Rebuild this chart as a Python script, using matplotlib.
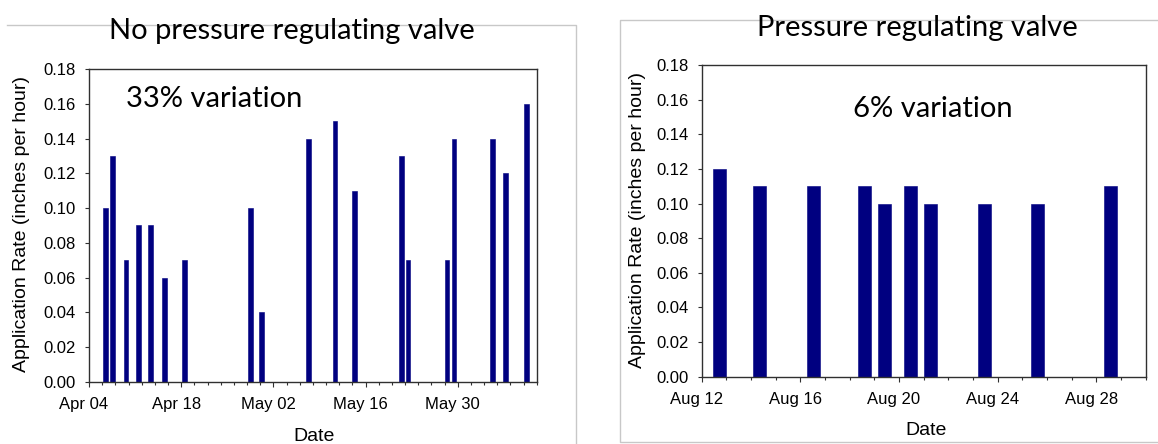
import matplotlib
matplotlib.use("Agg")
import matplotlib.pyplot as plt
import matplotlib.dates as mdates
import matplotlib.transforms as mtrans
from matplotlib.lines import Line2D
import pandas as pd

# application rate readings, no pressure regulating valve (spring run)
no_prv_times = pd.to_datetime([
    "2008-04-06 12:00", "2008-04-07 14:00", "2008-04-09 15:00", "2008-04-11 12:00",
    "2008-04-13 08:00", "2008-04-15 10:00", "2008-04-18 12:00", "2008-04-28 12:00",
    "2008-04-30 05:00", "2008-05-07 07:00", "2008-05-11 09:00", "2008-05-14 09:00",
    "2008-05-21 12:00", "2008-05-22 11:00", "2008-05-28 09:00", "2008-05-29 10:00",
    "2008-06-04 07:00", "2008-06-06 06:00", "2008-06-09 10:00",
])
no_prv_rate = [0.10, 0.13, 0.07, 0.09, 0.09, 0.06, 0.07, 0.10, 0.04, 0.14,
               0.15, 0.11, 0.13, 0.07, 0.07, 0.14, 0.14, 0.12, 0.16]

# application rate readings with the valve fitted (August run)
prv_times = pd.to_datetime([
    "2008-08-12 17:00", "2008-08-14 08:00", "2008-08-16 13:00", "2008-08-18 14:00",
    "2008-08-19 10:00", "2008-08-20 11:00", "2008-08-21 07:00", "2008-08-23 11:00",
    "2008-08-25 15:00", "2008-08-28 14:00",
])
prv_rate = [0.12, 0.11, 0.11, 0.11, 0.10, 0.11, 0.10, 0.10, 0.10, 0.11]

panel_titles = ["No pressure regulating valve", "Pressure regulating valve"]
variation_notes = ["33% variation", "6% variation"]
ylabel = "Application Rate (inches per hour)"
xlabel = "Date"

W, H = 1158, 444
BAR = "#000080"
AXC = "#303030"
FRAME = "#c8c8c8"
TITLE_FONT = "Lato"

plt.rcParams["font.family"] = ["Liberation Sans", "DejaVu Sans"]

fig = plt.figure(figsize=(W / 100, H / 100), dpi=100)


def px(x, y):
    # pixel position (from top-left) -> figure fraction
    return x / W, 1 - y / H


def box(x0, y0, x1, y1):
    l, t = px(x0, y0)
    r, b = px(x1, y1)
    return [l, b, r - l, t - b]


def frame_line(xs, ys):
    fx = [x / W for x in xs]
    fy = [1 - y / H for y in ys]
    fig.add_artist(Line2D(fx, fy, transform=fig.transFigure, color=FRAME, lw=1.0))


# light panel frames behind each chart
frame_line([7, 576, 576], [25, 25, 444])
frame_line([1158, 620, 620, 1158], [20, 20, 442, 442])

ax1 = fig.add_axes(box(89, 69.3, 536.7, 381.7))
ax2 = fig.add_axes(box(701.7, 65, 1145.7, 376.7))


def style(ax, times, rate, width, start, end, major, minor):
    ax.bar(times, rate, width=width, color=BAR, edgecolor=BAR, linewidth=0.4)
    ax.set_xlim(pd.Timestamp(start), pd.Timestamp(end))
    ax.set_ylim(0, 0.18)
    ax.set_yticks([i * 0.02 for i in range(10)])
    ax.yaxis.set_major_formatter(plt.FormatStrFormatter("%.2f"))
    ax.set_xticks(pd.date_range(start, end, freq=major))
    ax.set_xticks(pd.date_range(start, end, freq=minor), minor=True)
    ax.xaxis.set_major_formatter(mdates.DateFormatter("%b %d"))
    for s in ax.spines.values():
        s.set_color(AXC)
        s.set_linewidth(1.0)
    ax.tick_params(axis="both", which="both", direction="out", color=AXC,
                   width=0.8, labelsize=12)
    ax.tick_params(axis="x", which="major", length=3.8, pad=7.2)
    ax.tick_params(axis="x", which="minor", length=2.0)
    ax.tick_params(axis="y", which="major", length=3.0, pad=6.5)
    # Excel-style date labels sit a little left of their tick
    shift = mtrans.ScaledTranslation(-5 / 100, 0, fig.dpi_scale_trans)
    for lab in ax.get_xticklabels():
        lab.set_transform(lab.get_transform() + shift)


style(ax1, no_prv_times, no_prv_rate, 0.71, "2008-04-04", "2008-06-11", "14D", "2D")
style(ax2, prv_times, prv_rate, 0.52, "2008-08-12", "2008-08-30", "4D", "1D")

# panel titles
fig.text(*px(291.5, 38.5), panel_titles[0], ha="center", va="baseline",
         fontsize=21, family=TITLE_FONT)
fig.text(*px(917, 36), panel_titles[1], ha="center", va="baseline",
         fontsize=21, family=TITLE_FONT)

# variation notes
fig.text(*px(126, 106.7), variation_notes[0], ha="left", va="baseline",
         fontsize=21, family=TITLE_FONT)
fig.text(*px(853, 117.3), variation_notes[1], ha="left", va="baseline",
         fontsize=21, family=TITLE_FONT)

# axis titles
fig.text(*px(22, 224), ylabel, rotation=90, ha="center", va="center", fontsize=14)
fig.text(*px(637, 220), ylabel, rotation=90, ha="center", va="center", fontsize=14)
fig.text(*px(314, 436), xlabel, ha="center", va="center", fontsize=14)
fig.text(*px(926, 430), xlabel, ha="center", va="center", fontsize=14)

fig.savefig("out.png", dpi=100)
